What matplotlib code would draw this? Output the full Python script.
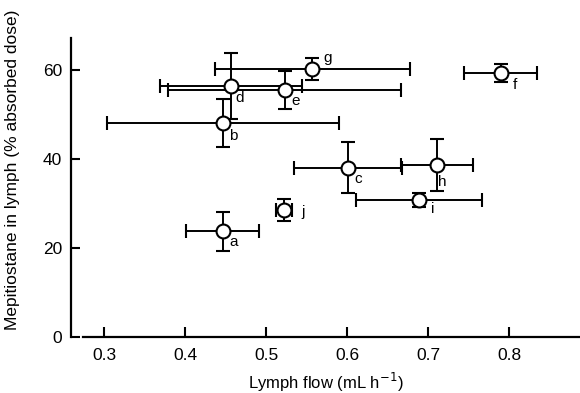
import matplotlib
matplotlib.use("Agg")
import matplotlib.pyplot as plt

plt.rcParams['font.family'] = ['Liberation Sans', 'DejaVu Sans']

labels = ['a', 'b', 'c', 'd', 'e', 'f', 'g', 'h', 'i', 'j']
lymph_flow = [0.446, 0.447, 0.601, 0.456, 0.523, 0.790, 0.557, 0.711, 0.689, 0.522]
lymph_flow_err = [0.045, 0.1435, 0.067, 0.088, 0.144, 0.045, 0.121, 0.044, 0.078, 0.010]
mepitiostane = [23.8, 48.2, 38.1, 56.5, 55.6, 59.4, 60.3, 38.7, 30.9, 28.6]
mepitiostane_err = [4.4, 5.45, 5.7, 7.5, 4.3, 2.0, 2.5, 5.8, 1.6, 2.5]
label_offsets = [(8, -8), (7, -9.5), (7, -8), (6.5, -8.5), (8, -8),
                 (10, -8.5), (11, 8), (4, -12), (10, -7), (13.5, -1.5)]
x_ticks = [0.3, 0.4, 0.5, 0.6, 0.7, 0.8]
y_ticks = [0, 20, 40, 60]

fig = plt.figure(figsize=(5.8, 3.93), dpi=100)
ax = fig.add_axes([71/580, (393-337)/393, (580-71)/580, (337-38)/393])

ax.errorbar(lymph_flow, mepitiostane, xerr=lymph_flow_err, yerr=mepitiostane_err,
            fmt='o', ms=10, mfc='white', mec='black', mew=1.5,
            ecolor='black', elinewidth=1.4, capsize=5, capthick=1.4, color='black')

for lab, x, y, off in zip(labels, lymph_flow, mepitiostane, label_offsets):
    ax.annotate(lab, (x, y), xytext=off, textcoords='offset points',
                ha='center', va='center', fontsize=11)

ax.set_xlim(0.2586, 0.8878)
ax.set_ylim(0, 67.3)
ax.set_xticks(x_ticks)
ax.set_xticklabels([f"{t:.1f}" for t in x_ticks])
ax.set_yticks(y_ticks)
ax.spines['top'].set_visible(False)
ax.spines['right'].set_visible(False)
ax.spines['left'].set_linewidth(1.6)
ax.spines['bottom'].set_linewidth(1.6)
ax.spines['bottom'].set_bounds(0.273, 0.8878)
ax.tick_params(axis='y', direction='in', length=6.5, width=1.5, pad=6.5, labelsize=12.5)
ax.tick_params(axis='x', direction='in', length=7, width=1.5, pad=8, labelsize=12.5)

ax.set_xlabel('Lymph flow (mL h$^{-1}$)', fontsize=12)
ax.xaxis.set_label_coords(0.5, -0.115)
ax.set_ylabel('Mepitiostane in lymph (% absorbed dose)', fontsize=12.5)
ax.yaxis.set_label_coords(-0.1, 0.56)

fig.savefig('out.png', dpi=100)
